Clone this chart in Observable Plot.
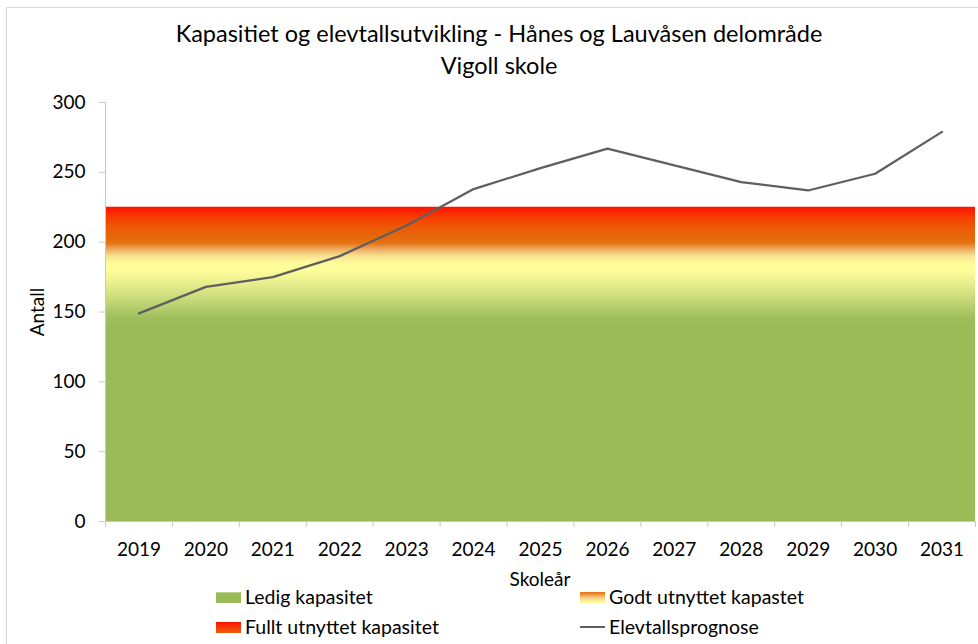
<!DOCTYPE html>
<html><head><meta charset="utf-8">
<script src="https://cdn.jsdelivr.net/npm/d3@7"></script>
<script src="https://cdn.jsdelivr.net/npm/@observablehq/plot@0.6"></script>
<style>
body{margin:0;background:#fff;font-family:Lato, "Open Sans", sans-serif;color:#000;}
#wrap{position:relative;width:978px;height:644px;overflow:hidden;background:#fff;}
#frame{position:absolute;left:6px;top:7px;width:1100px;height:800px;border:1.5px solid #d9d9d9;box-sizing:border-box;}
#chart{position:absolute;left:0;top:0;}
#title{position:absolute;left:0;top:17px;width:998px;text-align:center;font-size:23.5px;line-height:32px;}
.lab{position:absolute;font-size:19px;line-height:22px;white-space:nowrap;}
.item{position:absolute;display:flex;align-items:center;font-size:19.5px;line-height:22px;white-space:nowrap;}
.sw{width:25px;height:11px;margin-right:4px;}
.ln{width:25px;height:0;border-top:2px solid #5f5f5f;margin-right:4px;}
</style></head><body>
<div id="wrap">
  <div id="frame"></div>
  <div id="chart"></div>
  <div id="title">Kapasitiet og elevtallsutvikling - Hånes og Lauvåsen delområde<br>Vigoll skole</div>
  <div class="lab" id="ylab" style="left:37px;top:312px;transform:translate(-50%,-50%) rotate(-90deg);">Antall</div>
  <div class="lab" id="xlab" style="left:540px;top:579px;transform:translate(-50%,-50%);">Skoleår</div>
  <div id="legend"></div>
</div>
<script>
const years = [2019, 2020, 2021, 2022, 2023, 2024, 2025, 2026, 2027, 2028, 2029, 2030, 2031];
const students = [149, 168, 175, 190, 212, 238, 253, 267, 255, 243, 237, 249, 279];
const capacity = 225;
const yTicks = [0, 50, 100, 150, 200, 250, 300];
const legendNames = ["Ledig kapasitet", "Godt utnyttet kapastet", "Fullt utnyttet kapasitet", "Elevtallsprognose"];

const data = years.map((y, i) => ({year: y, value: students[i]}));
const bounds = years.map(y => y - 0.5).concat([years[years.length - 1] + 0.5]);
const axisGray = "#c8c8c8";

const chart = Plot.plot({
  width: 978, height: 644,
  marginLeft: 105, marginRight: 3, marginTop: 102, marginBottom: 123,
  style: {fontFamily: "Lato, 'Open Sans', sans-serif", fontSize: "19px", color: "#000", background: "transparent", overflow: "visible"},
  x: {domain: [bounds[0], bounds[bounds.length - 1]]},
  y: {domain: [0, 300]},
  marks: [
    Plot.rect([capacity], {x1: bounds[0], x2: bounds[bounds.length - 1], y1: 0, y2: d => d, fill: "url(#capGrad)"}),
    Plot.ruleY([0], {stroke: axisGray, strokeWidth: 1}),
    Plot.ruleX([bounds[0]], {y1: 0, y2: 300, stroke: axisGray, strokeWidth: 1}),
    Plot.axisY({ticks: yTicks, tickSize: 6, tickPadding: 14, stroke: axisGray, fill: "#000", label: null}),
    Plot.axisX({ticks: bounds, tickSize: 6, tickFormat: () => "", stroke: axisGray, label: null}),
    Plot.axisX({ticks: years, tickSize: 0, tickPadding: 21, tickFormat: d => String(d), fill: "#000", label: null}),
    Plot.line(data, {x: "year", y: "value", stroke: "#5f5f5f", strokeWidth: 2.25})
  ]
});

const grad = [
  [0.000, "#ff1000"], [0.031, "#f83a00"], [0.067, "#ec5a05"], [0.098, "#e4690c"],
  [0.116, "#e57412"], [0.133, "#eda45c"], [0.156, "#f8e08f"], [0.178, "#fdfb99"],
  [0.200, "#ffff99"], [0.244, "#e8ee8e"], [0.298, "#c5d878"], [0.356, "#9fbd5b"],
  [0.378, "#9bbb59"], [1.000, "#9bbb59"]
];
const sel = d3.select(chart);
const defs = sel.insert("defs", ":first-child");
const lg = defs.append("linearGradient").attr("id", "capGrad").attr("x1", 0).attr("y1", 0).attr("x2", 0).attr("y2", 1);
grad.forEach(([o, c]) => lg.append("stop").attr("offset", o).attr("stop-color", c));
document.getElementById("chart").appendChild(chart);

// legend
const swatches = [
  "background:#9bbb59;border-top:1px solid #b9d08a;box-sizing:border-box;",
  "background:linear-gradient(#e46c0a,#f8d08a 55%,#ffff99);",
  "background:linear-gradient(#ff1000,#e8600a);",
  null
];
const pos = [[216, 586], [580, 586], [216, 616], [580, 616]];
const legend = document.getElementById("legend");
legendNames.forEach((name, i) => {
  const it = document.createElement("div");
  it.className = "item";
  it.style.left = pos[i][0] + "px";
  it.style.top = pos[i][1] + "px";
  const s = document.createElement("div");
  if (swatches[i]) { s.className = "sw"; s.style.cssText = swatches[i]; }
  else { s.className = "ln"; }
  it.appendChild(s);
  const t = document.createElement("span");
  t.textContent = name;
  it.appendChild(t);
  legend.appendChild(it);
});
</script>
</body></html>
